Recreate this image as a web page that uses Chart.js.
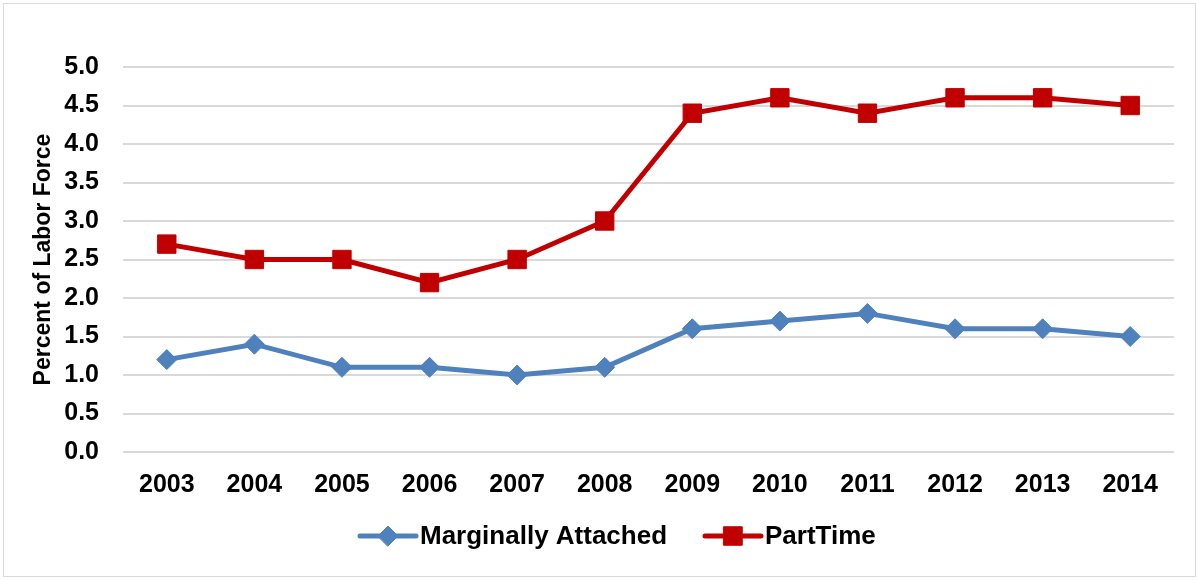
<!DOCTYPE html>
<html>
<head>
<meta charset="utf-8">
<script src="https://cdn.jsdelivr.net/npm/chart.js@4.4.1/dist/chart.umd.min.js"></script>
<style>
  html, body { margin: 0; padding: 0; background: #fff; }
  #wrap { width: 1198px; height: 580px; position: relative; }
</style>
</head>
<body>
<div id="wrap"><canvas id="laborChart" width="1198" height="580"></canvas></div>
<script>
// chart data
const years = ['2003', '2004', '2005', '2006', '2007', '2008', '2009', '2010', '2011', '2012', '2013', '2014'];
const marginallyAttached = [1.2, 1.4, 1.1, 1.1, 1.0, 1.1, 1.6, 1.7, 1.8, 1.6, 1.6, 1.5];
const partTime = [2.7, 2.5, 2.5, 2.2, 2.5, 3.0, 4.4, 4.6, 4.4, 4.6, 4.6, 4.5];
const seriesNames = ['Marginally Attached', 'PartTime'];
const yTitle = 'Percent of Labor Force';

const BLUE = '#4f81bd';
const RED = '#c00000';
const FONT = "'Liberation Sans', Arial, sans-serif";

// outer frame of the chart
const framePlugin = {
    id: 'frame',
    beforeDraw(chart) {
        const ctx = chart.ctx;
        ctx.save();
        ctx.strokeStyle = '#d9d9d9';
        ctx.lineWidth = 1;
        ctx.strokeRect(3.5, 3.5, 1192, 573);
        ctx.restore();
    }
};

// legend like the office one: line with marker in the middle
const lineLegend = {
    id: 'lineLegend',
    afterDraw(chart) {
        const ctx = chart.ctx;
        const y = 536;
        const items = [
            { x: 360, color: BLUE, style: 'rectRot', r: 10 },
            { x: 705, color: RED, style: 'rect', r: 13 }
        ];
        ctx.save();
        items.forEach((it, i) => {
            ctx.strokeStyle = it.color;
            ctx.lineWidth = 5;
            ctx.lineCap = 'round';
            ctx.beginPath();
            ctx.moveTo(it.x, y);
            ctx.lineTo(it.x + 56, y);
            ctx.stroke();
            ctx.fillStyle = it.color;
            ctx.lineWidth = 1;
            Chart.helpers.drawPoint(ctx, { pointStyle: it.style, radius: it.r, borderWidth: 1 }, it.x + 28, y);
            ctx.fill();
            ctx.fillStyle = '#000';
            ctx.font = 'bold 26px ' + FONT;
            ctx.textBaseline = 'middle';
            ctx.textAlign = 'left';
            ctx.fillText(seriesNames[i], it.x + 60, y + 1);
        });
        ctx.restore();
    }
};

const ctx = document.getElementById('laborChart').getContext('2d');
const laborChart = new Chart(ctx, {
    type: 'line',
    data: {
        labels: years,
        datasets: [{
            label: seriesNames[0],
            data: marginallyAttached,
            borderColor: BLUE,
            backgroundColor: BLUE,
            borderWidth: 5,
            pointStyle: 'rectRot',
            pointRadius: 10,
            pointBorderWidth: 1,
            tension: 0,
            fill: false
        }, {
            label: seriesNames[1],
            data: partTime,
            borderColor: RED,
            backgroundColor: RED,
            borderWidth: 5,
            pointStyle: 'rect',
            pointRadius: 13,
            pointBorderWidth: 1,
            tension: 0,
            fill: false
        }]
    },
    options: {
        responsive: false,
        animation: false,
        layout: {
            padding: { left: 0, top: 67, right: 24, bottom: 0 }
        },
        plugins: {
            legend: { display: false },
            tooltip: { enabled: false }
        },
        scales: {
            x: {
                offset: true,
                grid: { display: false, drawTicks: false },
                border: { display: false },
                ticks: {
                    color: '#000',
                    padding: 18,
                    maxRotation: 0,
                    font: { family: FONT, size: 25, weight: 'bold' }
                },
                afterFit(scale) { scale.height = 128; }
            },
            y: {
                min: 0,
                max: 5,
                grid: { color: '#d9d9d9', lineWidth: 2, drawTicks: false },
                border: { display: false },
                ticks: {
                    stepSize: 0.5,
                    color: '#000',
                    padding: 24,
                    font: { family: FONT, size: 25, weight: 'bold' },
                    callback: v => v.toFixed(1)
                },
                title: {
                    display: true,
                    text: yTitle,
                    color: '#000',
                    padding: { top: 30, bottom: 0 },
                    font: { family: FONT, size: 23, weight: 'bold' }
                },
                afterFit(scale) { scale.width = 123; }
            }
        }
    },
    plugins: [framePlugin, lineLegend]
});
</script>
</body>
</html>
